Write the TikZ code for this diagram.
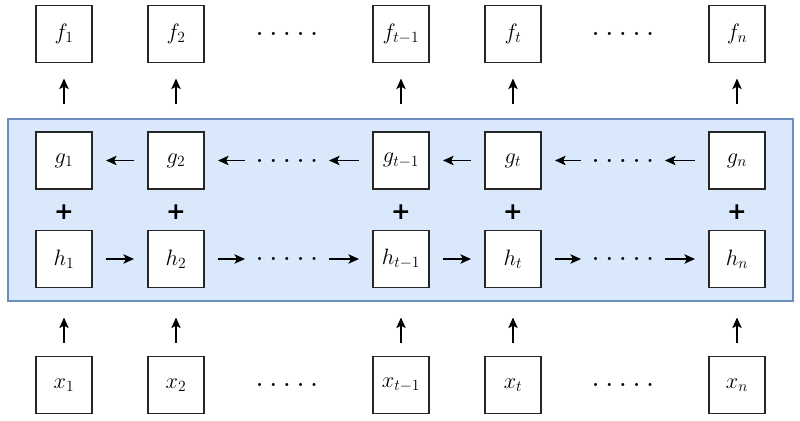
\documentclass[tikz,border=0pt]{standalone}
\usepackage{fix-cm}
\usepackage{fontspec}
\newfontfamily\plusfont{DejaVu Sans}
\usetikzlibrary{arrows.meta}
\definecolor{bluefill}{HTML}{DAE8FC}
\definecolor{blueedge}{HTML}{6C8EBF}
\newcommand{\dotrow}{.\hspace{6pt}.\hspace{6pt}.\hspace{6pt}.\hspace{6pt}.}
\begin{document}
\begin{tikzpicture}[x=0.03cm,y=-0.03cm,
  cell/.style={draw=black!85, fill=white, line width=1pt, minimum width=56*0.03cm, minimum height=57*0.03cm, inner sep=0pt, outer sep=0pt, font=\fontsize{19}{22}\selectfont},
  dotsnode/.style={minimum width=84*0.03cm, inner sep=0pt, outer sep=0pt, font=\fontsize{18}{20}\bfseries},
  plusnode/.style={inner sep=0pt, font=\plusfont\bfseries\fontsize{20}{22}\selectfont},
  arr/.style={line width=1.2pt, -{Stealth[length=9pt,width=8pt,inset=2pt]}},
  harr/.style={arr, shorten <=14*0.03cm, shorten >=14*0.03cm},
  uparrA/.style={arr, shorten <=28*0.03cm, shorten >=16*0.03cm},
  uparrB/.style={arr, shorten <=14*0.03cm, shorten >=30*0.03cm}]
\useasboundingbox (0,0) rectangle (800,421);
\draw[fill=bluefill, draw=blueedge, line width=1pt] (8,119) rectangle (793,301);
% columns
\foreach \n/\xx/\lab in {1/64/1, 2/176/2, 3/401/{t-1}, 4/513/t, 5/737/n}{
  \node[cell] (f\n) at (\xx,34) {$f_{\lab}$};
  \node[cell] (g\n) at (\xx,160.5) {$g_{\lab}$};
  \node[cell] (h\n) at (\xx,259) {$h_{\lab}$};
  \node[cell] (x\n) at (\xx,385) {$x_{\lab}$};
  \node[plusnode] (p\n) at (\xx,212) {+};
  \draw[uparrA] (g\n) -- (f\n);
  \draw[uparrB] (x\n) -- (h\n);
}
% dots
\foreach \d/\xx in {a/287, b/623}{
  \node[dotsnode] (fd\d) at (\xx,34) {\dotrow};
  \node[dotsnode] (gd\d) at (\xx,160.5) {\dotrow};
  \node[dotsnode] (hd\d) at (\xx,259) {\dotrow};
  \node[dotsnode] (xd\d) at (\xx,385) {\dotrow};
}
% g row (leftward)
\draw[harr] (g2) -- (g1);
\draw[arr, shorten >=14*0.03cm] (gda) -- (g2);
\draw[arr, shorten <=14*0.03cm] (g3) -- (gda);
\draw[harr] (g4) -- (g3);
\draw[arr, shorten >=14*0.03cm] (gdb) -- (g4);
\draw[arr, shorten <=14*0.03cm] (g5) -- (gdb);
% h row (rightward)
\draw[harr] (h1) -- (h2);
\draw[arr, shorten <=14*0.03cm] (h2) -- (hda);
\draw[arr, shorten >=14*0.03cm] (hda) -- (h3);
\draw[harr] (h3) -- (h4);
\draw[arr, shorten <=14*0.03cm] (h4) -- (hdb);
\draw[arr, shorten >=14*0.03cm] (hdb) -- (h5);
\end{tikzpicture}
\end{document}
